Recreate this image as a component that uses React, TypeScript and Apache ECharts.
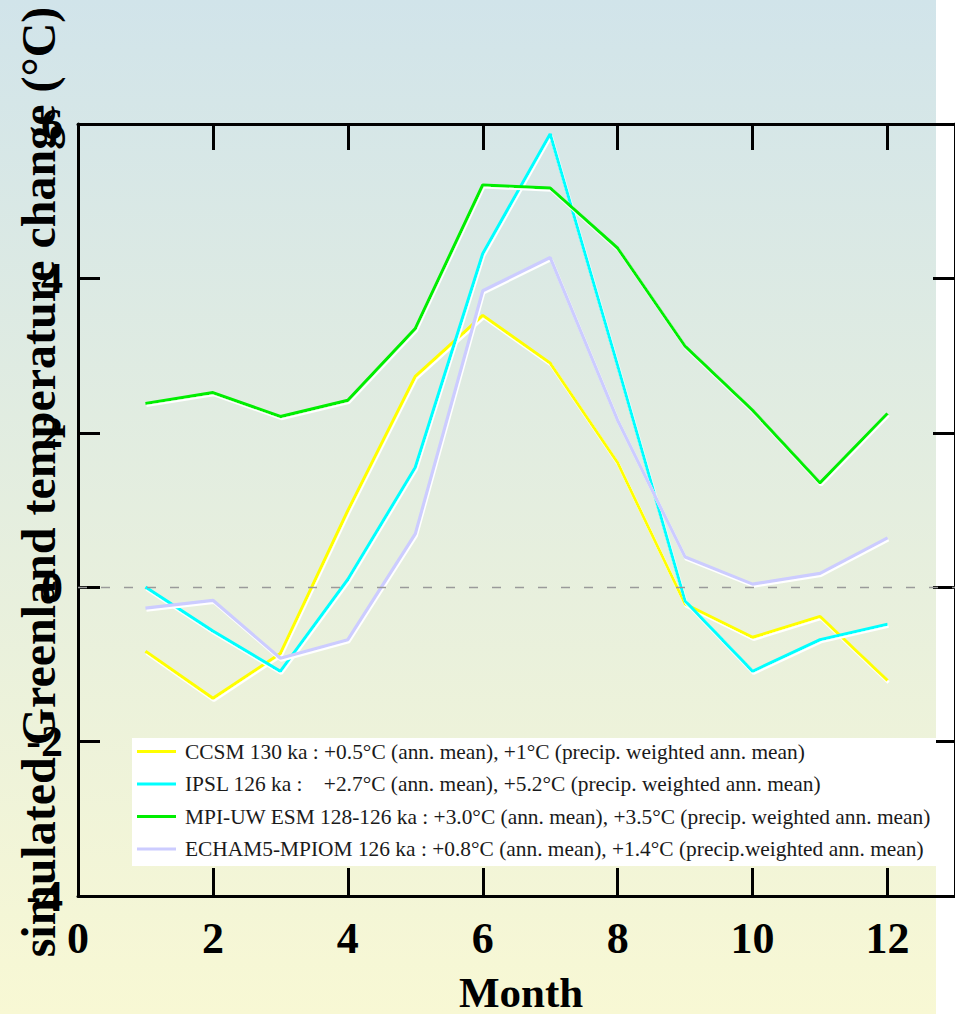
import { useEffect, useRef } from "react";
import * as echarts from "echarts";

const months = [1, 2, 3, 4, 5, 6, 7, 8, 9, 10, 11, 12];
const ccsm = [-0.83, -1.44, -0.86, 0.99, 2.73, 3.52, 2.9, 1.61, -0.22, -0.65, -0.38, -1.21];
const ipsl = [0.0, -0.57, -1.09, 0.1, 1.55, 4.32, 5.87, 2.87, -0.18, -1.09, -0.68, -0.48];
const mpi = [2.38, 2.52, 2.21, 2.42, 3.35, 5.21, 5.17, 4.39, 3.12, 2.29, 1.35, 2.25];
const echam = [-0.27, -0.17, -0.92, -0.68, 0.69, 3.84, 4.27, 2.16, 0.39, 0.04, 0.18, 0.64];

const seriesNames = [
  "CCSM 130 ka : +0.5°C (ann. mean), +1°C (precip. weighted ann. mean)",
  "IPSL 126 ka :\u00a0\u00a0\u00a0 +2.7°C (ann. mean), +5.2°C (precip. weighted ann. mean)",
  "MPI-UW ESM 128-126 ka : +3.0°C (ann. mean), +3.5°C (precip. weighted ann. mean)",
  "ECHAM5-MPIOM 126 ka : +0.8°C (ann. mean), +1.4°C (precip.weighted ann. mean)"
];
const seriesColors = ["#ffff00", "#00ffff", "#00ee00", "#ccccff"];
const seriesValues = [ccsm, ipsl, mpi, echam];

const xTicks = [0, 13, 2];
const yTicks = [-4, 6, 2];

const serif = "'Liberation Serif', 'Times New Roman', serif";

export default function App() {
  const chartRef = useRef<HTMLDivElement>(null);

  useEffect(() => {
    if (!chartRef.current) return;
    const chart = echarts.init(chartRef.current, null, { renderer: "svg" });

    const axisLine = { show: true, onZero: false, lineStyle: { color: "#000", width: 3 } };

    const series: any[] = seriesValues.map((vals, i) => ({
      name: seriesNames[i],
      type: "line",
      data: months.map((m, j) => [m, vals[j]]),
      showSymbol: false,
      symbol: "none",
      color: seriesColors[i],
      lineStyle: {
        width: 3.2,
        color: seriesColors[i],
        shadowColor: "#ffffff",
        shadowBlur: 0.5,
        shadowOffsetX: 1,
        shadowOffsetY: 2
      },
      z: 3
    }));
    series[0].markLine = {
      silent: true,
      symbol: "none",
      label: { show: false },
      lineStyle: { type: [9, 14], color: "#9a9a9a", width: 1.3, shadowBlur: 0, shadowOffsetX: 0, shadowOffsetY: 0 },
      data: [{ yAxis: 0 }]
    };

    const option = {
      animation: false,
      grid: { left: 78, top: 124, width: 886, height: 772, containLabel: false },
      legend: {
        orient: "vertical",
        left: 132,
        top: 736,
        icon: "rect",
        itemWidth: 39,
        itemHeight: 3,
        itemGap: 11.5,
        z: 20,
        textStyle: {
          fontFamily: serif,
          fontSize: 21.4,
          lineHeight: 21,
          color: "#1a1a1a",
          padding: [0, 0, 0, 4]
        },
        data: seriesNames
      },
      graphic: [
        {
          type: "rect",
          z: -10,
          silent: true,
          shape: { x: 0, y: 0, width: 936, height: 1014 },
          style: {
            fill: new echarts.graphic.LinearGradient(0, 0, 0, 1, [
              { offset: 0, color: "#d1e4ea" },
              { offset: 1, color: "#f8f8d4" }
            ])
          }
        },
        {
          type: "rect",
          z: 10,
          silent: true,
          shape: { x: 132, y: 738, width: 804, height: 128 },
          style: { fill: "#ffffff" }
        },
        {
          type: "text",
          z: 10,
          x: 38,
          y: 482,
          rotation: Math.PI / 2,
          style: {
            text: "simulated Greenland temperature change (°C)",
            font: `bold 48px ${serif}`,
            lineHeight: 44,
            fill: "#000",
            align: "center",
            verticalAlign: "middle"
          }
        },
        {
          type: "text",
          z: 10,
          x: 521,
          y: 992,
          style: {
            text: "Month",
            font: `bold 43px ${serif}`,
            lineHeight: 36,
            fill: "#000",
            align: "center",
            verticalAlign: "middle"
          }
        }
      ],
      xAxis: [
        {
          type: "value",
          position: "bottom",
          min: xTicks[0],
          max: xTicks[1],
          interval: xTicks[2],
          axisLine,
          splitLine: { show: false },
          axisTick: { show: true, inside: true, length: 28, lineStyle: { color: "#000", width: 3 } },
          axisLabel: {
            show: true,
            margin: 20,
            showMaxLabel: false,
            fontFamily: serif,
            fontWeight: "bold",
            fontSize: 44,
            color: "#000"
          }
        },
        {
          type: "value",
          position: "top",
          min: xTicks[0],
          max: xTicks[1],
          interval: xTicks[2],
          axisLine,
          splitLine: { show: false },
          axisTick: { show: true, inside: true, length: 26, lineStyle: { color: "#000", width: 3 } },
          axisLabel: { show: false }
        }
      ],
      yAxis: [
        {
          type: "value",
          position: "left",
          min: yTicks[0],
          max: yTicks[1],
          interval: yTicks[2],
          axisLine,
          splitLine: { show: false },
          axisTick: { show: true, inside: true, length: 22, lineStyle: { color: "#000", width: 3 } },
          axisLabel: {
            show: true,
            margin: 15,
            fontFamily: serif,
            fontWeight: "bold",
            fontSize: 44,
            color: "#000"
          }
        },
        {
          type: "value",
          position: "right",
          min: yTicks[0],
          max: yTicks[1],
          interval: yTicks[2],
          axisLine,
          splitLine: { show: false },
          axisTick: { show: true, inside: true, length: 22, lineStyle: { color: "#000", width: 3 } },
          axisLabel: { show: false }
        }
      ],
      series
    };

    chart.setOption(option);

    return () => {
      chart.dispose();
    };
  }, []);

  return (
    <div
      ref={chartRef}
      style={{ position: "fixed", left: 0, top: 0, width: "955px", height: "1014px", background: "#fff" }}
    />
  );
}
